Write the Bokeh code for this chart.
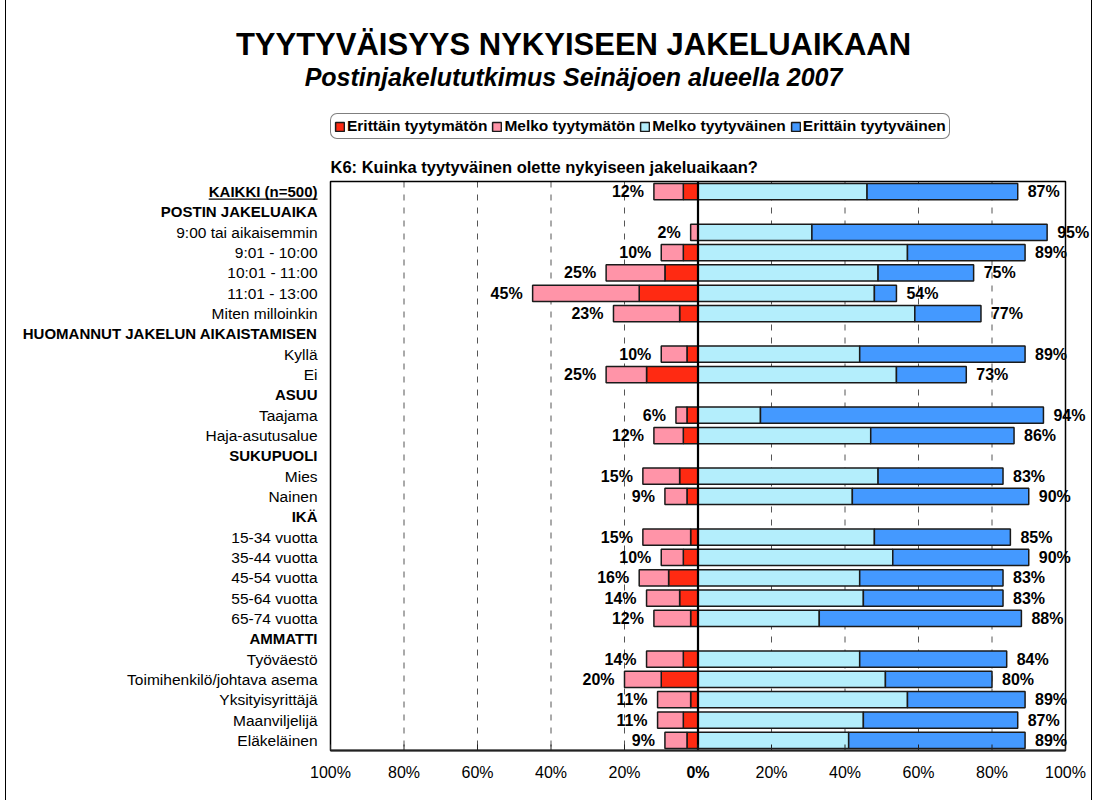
from bokeh.plotting import figure
from bokeh.models import ColumnDataSource, Range1d, Legend, LegendItem
from bokeh.core.properties import value
from bokeh.embed import file_html
from bokeh.resources import INLINE

FONT = "Liberation Sans"

categories = [
    "KAIKKI (n=500)", "POSTIN JAKELUAIKA", "9:00 tai aikaisemmin", "9:01 - 10:00",
    "10:01 - 11:00", "11:01 - 13:00", "Miten milloinkin", "HUOMANNUT JAKELUN AIKAISTAMISEN",
    "Kyllä", "Ei", "ASUU", "Taajama", "Haja-asutusalue", "SUKUPUOLI", "Mies", "Nainen",
    "IKÄ", "15-34 vuotta", "35-44 vuotta", "45-54 vuotta", "55-64 vuotta", "65-74 vuotta",
    "AMMATTI", "Työväestö", "Toimihenkilö/johtava asema", "Yksityisyrittäjä",
    "Maanviljelijä", "Eläkeläinen",
]
bold_rows = [True, True, False, False, False, False, False, True, False, False, True,
             False, False, True, False, False, True, False, False, False, False, False,
             True, False, False, False, False, False]

erittain_tyytymaton = [4, None, 0, 4, 9, 16, 5, None, 3, 14, None, 3, 4, None, 5, 3, None,
                       2, 4, 8, 5, 2, None, 4, 10, 2, 4, 3]
melko_tyytymaton = [8, None, 2, 6, 16, 29, 18, None, 7, 11, None, 3, 8, None, 10, 6, None,
                    13, 6, 8, 9, 10, None, 10, 10, 9, 7, 6]
melko_tyytyvainen = [46, None, 31, 57, 49, 48, 59, None, 44, 54, None, 17, 47, None, 49, 42,
                     None, 48, 53, 44, 45, 33, None, 44, 51, 57, 45, 41]
erittain_tyytyvainen = [41, None, 64, 32, 26, 6, 18, None, 45, 19, None, 77, 39, None, 34,
                        48, None, 37, 37, 39, 38, 55, None, 40, 29, 32, 42, 48]

tick_values = [-100, -80, -60, -40, -20, 0, 20, 40, 60, 80, 100]
tick_labels = ["100%", "80%", "60%", "40%", "20%", "0%", "20%", "40%", "60%", "80%", "100%"]
grid_values = [-80, -60, -40, -20, 20, 40, 60, 80]

series_names = ["Erittäin tyytymätön", "Melko tyytymätön", "Melko tyytyväinen", "Erittäin tyytyväinen"]
colors = ["#FF2A12", "#FF94A8", "#B4EEFC", "#4499FF"]

title_text = "TYYTYVÄISYYS NYKYISEEN JAKELUAIKAAN"
subtitle_text = "Postinjakelututkimus Seinäjoen alueella 2007"
question_text = "K6: Kuinka tyytyväinen olette nykyiseen jakeluaikaan?"

n = len(categories)

# ---- layout (canvas pixels) ----
W, H = 1087, 800
PL, PR, PT, PB = 324, 1059, 181, 750          # plot-area edges on the canvas
ppu = (PR - PL) / 200.0                        # px per percent
ppr = (PB - PT) / float(n)                     # px per row


def dx(px):
    return px / ppu


def dy(px):
    return px / ppr


x_range = Range1d(-100 - dx(PL), 100 + dx(W - PR))
y_range = Range1d(n + dy(H - PB), -dy(PT))

p = figure(width=W, height=H, output_backend="svg", toolbar_location=None,
           x_range=x_range, y_range=y_range, x_axis_location=None, y_axis_location=None,
           min_border=0, min_border_left=0, min_border_right=0, min_border_top=0,
           min_border_bottom=0)
p.styles = {"margin-left": "5px", "border-left": "1px solid black",
            "border-right": "1px solid black"}
p.outline_line_color = None
p.grid.visible = False

# dashed grid lines
p.segment(x0=grid_values, x1=grid_values, y0=[0] * len(grid_values), y1=[n] * len(grid_values),
          line_color="#555555", line_width=1, line_dash="6 7")

# bars
rows = [i for i in range(n) if erittain_tyytymaton[i] is not None]
ys = [i + 0.5 for i in rows]
r1 = [erittain_tyytymaton[i] for i in rows]
r2 = [melko_tyytymaton[i] for i in rows]
b1 = [melko_tyytyvainen[i] for i in rows]
b2 = [erittain_tyytyvainen[i] for i in rows]
neg_tot = [a + b for a, b in zip(r1, r2)]
pos_tot = [a + b for a, b in zip(b1, b2)]

src = ColumnDataSource(dict(
    y=ys,
    red_l=[-a for a in r1], red_r=[0] * len(rows),
    pink_l=[-(a + b) for a, b in zip(r1, r2)], pink_r=[-a for a in r1],
    lb_l=[0] * len(rows), lb_r=b1,
    db_l=b1, db_r=[a + b for a, b in zip(b1, b2)],
    neg_x=[-t - dx(10) for t in neg_tot], neg_txt=[f"{t}%" for t in neg_tot],
    pos_x=[t + dx(10) for t in pos_tot], pos_txt=[f"{t}%" for t in pos_tot],
))

bh = 0.8
lw = 1.5
lc = "#1a1a1a"
r_red = p.hbar(y="y", left="red_l", right="red_r", height=bh, source=src,
               fill_color=colors[0], line_color=lc, line_width=lw)
r_pink = p.hbar(y="y", left="pink_l", right="pink_r", height=bh, source=src,
                fill_color=colors[1], line_color=lc, line_width=lw)
r_lb = p.hbar(y="y", left="lb_l", right="lb_r", height=bh, source=src,
              fill_color=colors[2], line_color=lc, line_width=lw)
r_db = p.hbar(y="y", left="db_l", right="db_r", height=bh, source=src,
              fill_color=colors[3], line_color=lc, line_width=lw)

# plot-area frame, zero line, axis line and ticks
p.quad(left=[-100], right=[100], top=[0], bottom=[n], fill_color=None,
       line_color="black", line_width=1.5)
p.segment(x0=[0], x1=[0], y0=[0], y1=[n], line_color="black", line_width=2.2)
p.segment(x0=[-100], x1=[100], y0=[n], y1=[n], line_color="#222222", line_width=2.2)
p.segment(x0=tick_values, x1=tick_values, y0=[n] * len(tick_values),
          y1=[n - dy(6)] * len(tick_values), line_color="#222222", line_width=1)

F = value(FONT)
MID = value("middle")

# value labels
p.text(x="neg_x", y="y", text="neg_txt", source=src, text_font=F, text_font_size=value("16px"),
       text_font_style=value("bold"), text_align=value("right"), text_baseline=MID,
       text_color="black")
p.text(x="pos_x", y="y", text="pos_txt", source=src, text_font=F, text_font_size=value("16px"),
       text_font_style=value("bold"), text_align=value("left"), text_baseline=MID,
       text_color="black")

# category labels
LAB_FS = 15.5
BOLD_FS = 15
lab_x = -100 - dx(13)
reg_idx = [i for i in range(n) if not bold_rows[i]]
bold_idx = [i for i in range(n) if bold_rows[i]]
p.text(x=[lab_x] * len(reg_idx), y=[i + 0.5 for i in reg_idx], text=[categories[i] for i in reg_idx],
       text_font=F, text_font_size=value(f"{LAB_FS}px"), text_align=value("right"), text_baseline=MID,
       text_color="black")
p.text(x=[lab_x] * len(bold_idx), y=[i + 0.5 for i in bold_idx], text=[categories[i] for i in bold_idx],
       text_font=F, text_font_size=value(f"{BOLD_FS}px"), text_font_style=value("bold"),
       text_align=value("right"), text_baseline=MID, text_color="black")

# underline under the first (total) label
ul_w = 7.251 * BOLD_FS
p.segment(x0=[lab_x - dx(ul_w)], x1=[lab_x], y0=[0.5 + dy(7.5)], y1=[0.5 + dy(7.5)],
          line_color="black", line_width=1.3)

# tick labels
nz = [k for k, v in enumerate(tick_values) if v != 0]
z = tick_values.index(0)
p.text(x=[tick_values[k] for k in nz], y=[n + dy(22)] * len(nz), text=[tick_labels[k] for k in nz],
       text_font=F, text_font_size=value("16px"), text_align=value("center"), text_baseline=MID,
       text_color="black")
p.text(x=[tick_values[z]], y=[n + dy(22)], text=[tick_labels[z]],
       text_font=F, text_font_size=value("16px"), text_font_style=value("bold"),
       text_align=value("center"), text_baseline=MID, text_color="black")

# titles
title_cx = -100 + dx(573 - 6 - PL)
p.text(x=[title_cx], y=[-dy(PT - 44)], text=[title_text], text_font=F,
       text_font_size=value("31px"), text_font_style=value("bold"), text_align=value("center"),
       text_baseline=MID, text_color="black")
p.text(x=[title_cx], y=[-dy(PT - 76)], text=[subtitle_text], text_font=F,
       text_font_size=value("25px"), text_font_style=value("bold italic"),
       text_align=value("center"), text_baseline=MID, text_color="black")
p.text(x=[-100], y=[-dy(PT - 166)], text=[question_text], text_font=F,
       text_font_size=value("16.5px"), text_font_style=value("bold"), text_align=value("left"),
       text_baseline=MID, text_color="black")

legend = Legend(items=[LegendItem(label=series_names[0], renderers=[r_red]),
                       LegendItem(label=series_names[1], renderers=[r_pink]),
                       LegendItem(label=series_names[2], renderers=[r_lb]),
                       LegendItem(label=series_names[3], renderers=[r_db])],
                orientation="horizontal", location=(PL, H - 139),
                label_text_font=FONT, label_text_font_style="bold", label_text_font_size="15.5px",
                label_text_color="black",
                glyph_width=11, glyph_height=11, label_standoff=2, spacing=4, padding=3, margin=0,
                label_height=12, border_line_color="black", border_line_width=1.5,
                background_fill_color="white", background_fill_alpha=1)
try:
    legend.border_radius = 7
except Exception:
    pass
p.add_layout(legend)

open("out.html", "w").write(file_html(p, INLINE))
